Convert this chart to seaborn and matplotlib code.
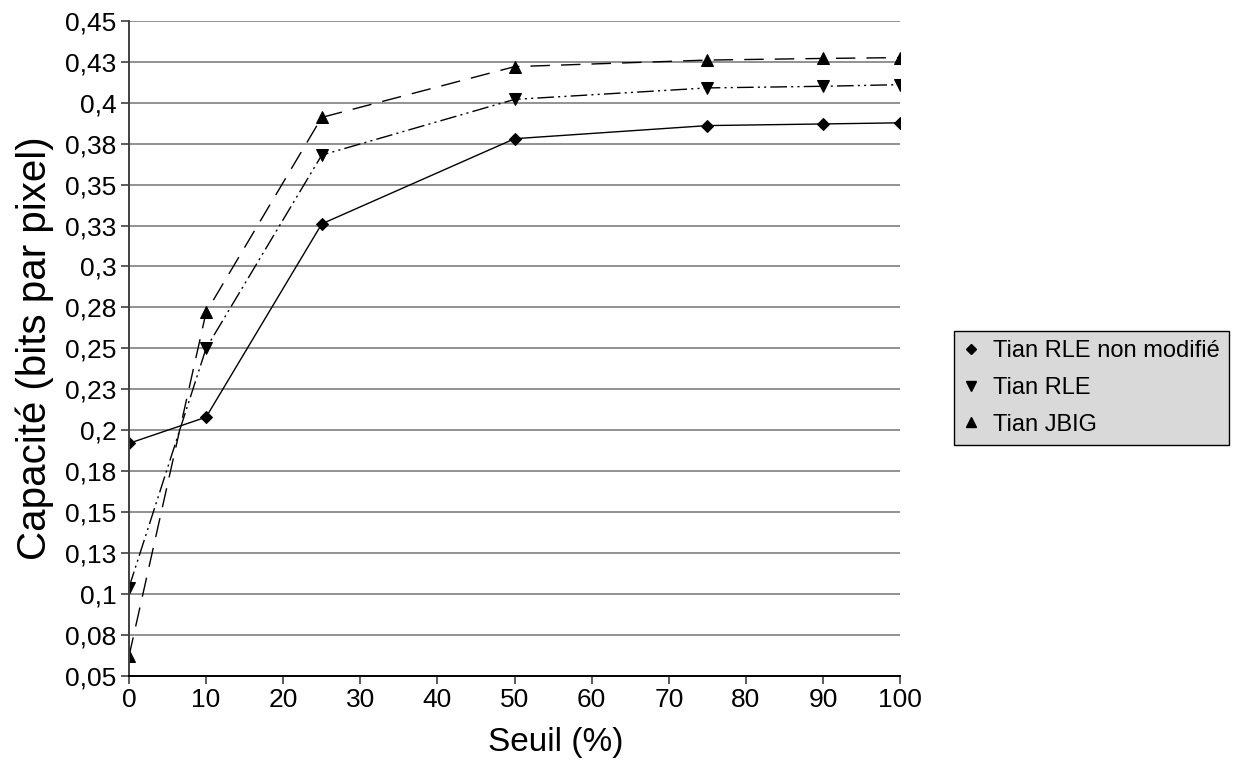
import matplotlib
matplotlib.use("Agg")
import matplotlib.pyplot as plt
import seaborn as sns
import pandas as pd

# Thresholds (%) and embedding capacity (bits per pixel) for each method
seuils = [0, 10, 25, 50, 75, 90, 100]
rle_non_modifie = [0.192, 0.208, 0.326, 0.378, 0.386, 0.387, 0.3877]
rle = [0.104, 0.250, 0.368, 0.402, 0.409, 0.410, 0.411]
jbig = [0.062, 0.272, 0.391, 0.422, 0.426, 0.427, 0.4275]
series_names = ["Tian RLE non modifié", "Tian RLE", "Tian JBIG"]
y_ticks = [0.05 + 0.025 * i for i in range(17)]
y_tick_labels = ["0,05", "0,08", "0,1", "0,13", "0,15", "0,18", "0,2", "0,23",
                 "0,25", "0,28", "0,3", "0,33", "0,35", "0,38", "0,4", "0,43", "0,45"]
x_ticks = list(range(0, 101, 10))

sns.set_style("white")
plt.rcParams["font.family"] = ["Liberation Sans", "DejaVu Sans"]
plt.rcParams["text.color"] = "black"
plt.rcParams["axes.labelcolor"] = "black"
plt.rcParams["xtick.labelcolor"] = "black"
plt.rcParams["ytick.labelcolor"] = "black"

df = pd.DataFrame({
    "Seuil": seuils * 3,
    "Capacite": rle_non_modifie + rle + jbig,
    "Serie": [series_names[0]] * 7 + [series_names[1]] * 7 + [series_names[2]] * 7,
})

fig = plt.figure(figsize=(12.4, 7.69), dpi=100)
ax = fig.add_axes([0.104, 0.121, 0.622, 0.852])

styles = {
    series_names[0]: dict(marker="D", linestyle="-", ms=6.5),
    series_names[1]: dict(marker="v", linestyle=(0, (12, 3, 1.5, 3, 1.5, 3)), ms=8.5),
    series_names[2]: dict(marker="^", linestyle=(0, (14, 8)), ms=8.5),
}

for name in series_names:
    sub = df[df["Serie"] == name]
    st = styles[name]
    sns.lineplot(data=sub, x="Seuil", y="Capacite", ax=ax, color="black",
                 linewidth=1.0, marker=st["marker"], markersize=st["ms"],
                 markeredgecolor="black", markerfacecolor="black",
                 linestyle=st["linestyle"], label=name, legend=False)

ax.set_xlim(0, 100)
ax.set_ylim(0.05, 0.45)
ax.set_xticks(x_ticks)
ax.set_xticklabels([str(v) for v in x_ticks], fontsize=19, color="black")
ax.set_yticks(y_ticks)
ax.set_yticklabels(y_tick_labels, fontsize=19, color="black")

for yv in y_ticks[1:]:
    ax.axhline(yv, color="#7f7f7f", linewidth=1.2, zorder=0)

for side in ["top", "right"]:
    ax.spines[side].set_visible(False)
ax.spines["left"].set_color("#404040")
ax.spines["left"].set_linewidth(1.4)
ax.spines["bottom"].set_color("black")
ax.spines["bottom"].set_linewidth(1.4)
ax.tick_params(axis="both", direction="out", length=6, width=1.2, color="#404040",
               pad=3, left=True, bottom=True)

ax.set_xlabel("Seuil (%)", fontsize=24, color="black")
ax.xaxis.set_label_coords(0.554, -0.078)
ax.set_ylabel("Capacité (bits par pixel)", fontsize=29, labelpad=8, color="black")

leg_handles = []
for name in series_names:
    leg_handles.append(plt.Line2D([], [], color="black", linestyle="none",
                                  marker=styles[name]["marker"],
                                  markersize=styles[name]["ms"] * 0.85))
leg = fig.legend(leg_handles, series_names, loc="center left",
                 bbox_to_anchor=(0.769, 0.4955), fontsize=17, frameon=True,
                 fancybox=False, edgecolor="black", facecolor="#d9d9d9",
                 handlelength=0.7, handletextpad=0.55, borderpad=0.4,
                 borderaxespad=0, labelspacing=0.62, framealpha=1)
leg.get_frame().set_linewidth(1.0)
for t in leg.get_texts():
    t.set_color("black")

fig.savefig("out.png", dpi=100)
